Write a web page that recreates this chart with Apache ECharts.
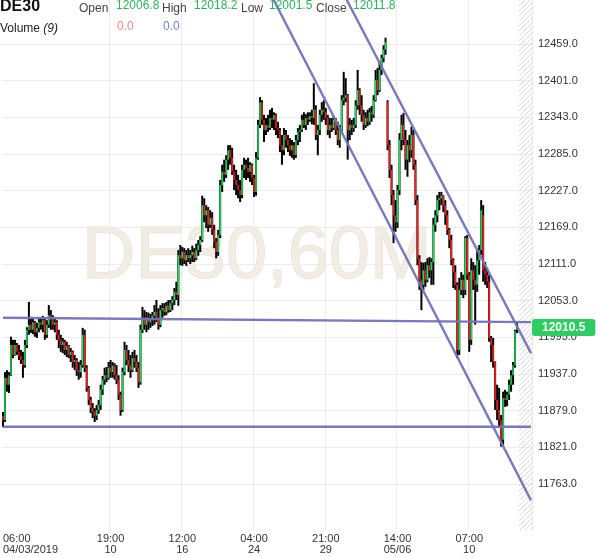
<!DOCTYPE html>
<html><head><meta charset="utf-8">
<script src="https://cdn.jsdelivr.net/npm/echarts@6/dist/echarts.min.js"></script>
<style>html,body{margin:0;padding:0;background:#fff}#c{width:600px;height:558px}</style>
</head><body><div id="c"></div>
<script>
const open = [
11871,11864,11931,11920,11935,11983,11967,11983,11972,11966,
11959,11951,11983,12007,12015,12007,12019,12003,12010,12019,
12015,12022,11999,12015,12030,12026,12015,12019,11999,11991,
11983,11988,11975,11981,11967,11972,11956,11959,11943,11940,
11951,11999,11947,11915,11896,11883,11877,11871,11880,11888,
11912,11928,11935,11931,11947,11940,11950,11935,11928,11904,
11880,11940,11975,11959,11951,11943,11962,11956,11947,11924,
12007,12026,12015,12026,12019,12022,12029,12035,12026,12015,
12038,12041,12035,12045,12038,12049,12054,12067,12062,12125,
12120,12130,12117,12125,12120,12125,12130,12120,12133,12141,
12149,12204,12188,12196,12173,12184,12165,12146,12130,12157,
12236,12257,12252,12276,12291,12279,12257,12244,12236,12228,
12220,12260,12268,12263,12257,12268,12247,12225,12279,12331,
12367,12339,12323,12331,12326,12342,12339,12347,12326,12323,
12299,12291,12315,12307,12299,12291,12299,12283,12307,12320,
12323,12339,12331,12342,12339,12345,12342,12355,12315,12323,
12347,12355,12351,12342,12323,12331,12326,12339,12323,12307,
12323,12370,12374,12378,12323,12331,12326,12331,12362,12386,
12362,12347,12331,12342,12336,12351,12347,12370,12402,12386,
12418,12437,12450,12367,12299,12260,12220,12188,12177,12228,
12307,12331,12307,12276,12299,12291,12315,12268,12212,12120,
12086,12078,12101,12086,12109,12101,12114,12173,12188,12212,
12215,12219,12204,12188,12165,12149,12117,12098,12078,11975,
12070,12086,12070,12152,12094,11991,12101,12086,12078,12117,
12133,12188,12101,12094,12083,11994,11983,11956,11896,11880,
11864,11833,11899,11896,11904,11920,11935,11951,12006.8];
const close = [
11864,11931,11920,11935,11983,11967,11983,11972,11966,11959,
11951,11983,12007,12015,12007,12019,12003,12010,12019,12015,
12022,11999,12015,12030,12026,12015,12019,11999,11991,11983,
11988,11975,11981,11967,11972,11956,11959,11943,11940,11951,
11999,11947,11915,11896,11883,11877,11871,11880,11888,11912,
11928,11935,11931,11947,11940,11950,11935,11928,11904,11880,
11940,11975,11959,11951,11943,11962,11956,11947,11924,12007,
12026,12015,12026,12019,12022,12029,12035,12026,12015,12038,
12041,12035,12045,12038,12049,12054,12067,12062,12125,12120,
12130,12117,12125,12120,12125,12130,12120,12133,12141,12149,
12204,12188,12196,12173,12184,12165,12146,12130,12157,12236,
12257,12252,12276,12291,12279,12257,12244,12236,12228,12220,
12260,12268,12263,12257,12268,12247,12225,12279,12331,12367,
12339,12323,12331,12326,12342,12339,12347,12326,12323,12299,
12291,12315,12307,12299,12291,12299,12283,12307,12320,12323,
12339,12331,12342,12339,12345,12342,12355,12315,12323,12347,
12355,12351,12342,12323,12331,12326,12339,12323,12307,12323,
12370,12374,12378,12323,12331,12326,12331,12362,12386,12362,
12347,12331,12342,12336,12351,12347,12370,12402,12386,12418,
12437,12450,12462,12299,12260,12220,12188,12177,12228,12307,
12331,12307,12276,12299,12291,12315,12268,12212,12120,12086,
12078,12101,12086,12109,12101,12114,12173,12188,12212,12215,
12219,12204,12188,12165,12149,12117,12098,12078,11975,12070,
12086,12070,12152,12094,11991,12101,12086,12078,12117,12133,
12196,12101,12094,12083,11994,11983,11956,11896,11880,11864,
11833,11899,11896,11904,11920,11935,11951,12005,12011.8];
const low = [
11853,11861,11909,11907,11934,11962,11966,11967,11959,11953,
11931,11947,11978,11999,12002,12000,11996,11994,12003,12007,
12003,11991,11994,12010,12007,12007,12003,11991,11978,11972,
11970,11967,11964,11962,11956,11947,11943,11934,11928,11931,
11947,11940,11909,11888,11875,11867,11861,11864,11874,11880,
11904,11920,11924,11928,11931,11931,11928,11921,11896,11871,
11877,11935,11951,11940,11931,11940,11947,11940,11915,11920,
12002,12007,12003,12007,12010,12013,12015,12019,12007,12011,
12026,12029,12030,12034,12035,12038,12046,12054,12045,12109,
12108,12111,12108,12114,12111,12114,12114,12117,12124,12130,
12146,12177,12168,12162,12168,12157,12136,12120,12124,12152,
12225,12241,12247,12260,12268,12252,12228,12220,12215,12209,
12215,12247,12244,12247,12241,12236,12217,12219,12276,12326,
12331,12304,12315,12320,12323,12326,12323,12315,12310,12288,
12268,12283,12295,12288,12282,12279,12276,12279,12299,12304,
12320,12326,12323,12331,12336,12332,12331,12307,12283,12315,
12336,12339,12331,12315,12310,12320,12323,12315,12299,12295,
12320,12362,12367,12276,12307,12315,12320,12326,12355,12347,
12336,12323,12326,12329,12331,12336,12342,12368,12378,12383,
12410,12430,12442,12291,12247,12204,12144,12162,12168,12220,
12291,12299,12260,12249,12272,12279,12260,12204,12109,12070,
12038,12070,12075,12082,12089,12078,12078,12162,12177,12196,
12204,12193,12173,12157,12136,12109,12073,12070,11962,11967,
12062,12057,12062,12086,11972,11983,12070,12015,12067,12094,
12125,12083,12078,12073,11988,11956,11947,11880,11864,11852,
11822,11825,11885,11886,11896,11909,11920,11947,12001.5];
const high = [
11877,11940,11943,11940,11996,11991,11991,11986,11983,11975,
11972,11991,12011,12051,12027,12026,12021,12018,12026,12027,
12029,12026,12022,12046,12038,12030,12026,12022,12007,11999,
11994,11991,11988,11983,11978,11974,11967,11962,11956,11959,
12010,12007,11951,11918,11901,11891,11883,11888,11896,11920,
11934,11947,11948,11956,11959,11956,11954,11951,11935,11909,
11947,11988,11983,11975,11967,11972,11975,11967,11956,12015,
12043,12038,12035,12034,12032,12035,12046,12054,12041,12046,
12049,12049,12051,12054,12054,12060,12073,12083,12133,12141,
12138,12136,12133,12136,12133,12140,12136,12143,12149,12155,
12219,12215,12204,12201,12196,12193,12173,12152,12165,12244,
12268,12276,12283,12299,12299,12295,12268,12260,12252,12244,
12268,12279,12276,12279,12272,12270,12252,12288,12339,12375,
12370,12347,12342,12347,12355,12358,12351,12349,12336,12326,
12315,12326,12323,12315,12310,12307,12304,12315,12326,12331,
12347,12351,12348,12351,12351,12355,12397,12362,12331,12355,
12367,12370,12358,12347,12342,12342,12345,12342,12336,12331,
12378,12415,12405,12380,12342,12339,12342,12370,12418,12389,
12378,12355,12351,12355,12358,12361,12378,12418,12421,12430,
12442,12457,12469,12370,12307,12268,12228,12212,12236,12318,
12347,12350,12323,12307,12315,12328,12323,12276,12220,12125,
12114,12113,12114,12120,12122,12120,12184,12196,12220,12225,
12225,12220,12212,12196,12168,12157,12120,12109,12082,12089,
12098,12094,12155,12157,12098,12120,12114,12109,12133,12141,
12212,12204,12114,12105,12094,11997,11994,11957,11920,11915,
11872,11909,11912,11909,11928,11943,11956,12007,12018.2];

const tickLabels = ['06:00\n04/03/2019', '19:00\n10', '12:00\n16', '04:00\n24', '21:00\n29', '14:00\n05/06', '07:00\n10'];
const tickIndex = [0, 54, 90, 126, 162, 198, 234];
const futureSlots = 7;
const yTicks = [11763, 11821, 11879, 11937, 11995, 12053, 12111, 12169, 12227, 12285, 12343, 12401, 12459];
const yMin = 11690.2, yMax = 12528.6;
const lastPrice = 12010.5;
const header = {open: '12006.8', high: '12018.2', low: '12001.5', close: '12011.8', vol1: '0.0', vol2: '0.0'};
const channelUpper = [[170, 12544], [265, 11970]];
const channelLower = [[135, 12534], [265, 11737]];
const levelUpper = [[0, 12026], [265, 12019]];
const levelLower = [[0, 11853.6], [265, 11853.6]];

const N = open.length;
const cats = [];
for (let i = 0; i < N + futureSlots; i++) cats.push(String(i));
const labelAt = {};
tickIndex.forEach((t, k) => { labelAt[t] = tickLabels[k]; });
const candles = open.map((o, i) => [i, o, close[i], low[i], high[i]]);

const GREEN = '#1fdc5f', RED = '#ff1a1a', LINE = '#7272b9';
const FONT = '"Liberation Sans", Arial, sans-serif';

function renderItem(params, api) {
  const i = api.value(0), o = api.value(1), c = api.value(2), l = api.value(3), h = api.value(4);
  const pL = api.coord([i, l]), pH = api.coord([i, h]);
  const pO = api.coord([i, o]), pC = api.coord([i, c]);
  let y0 = Math.min(pO[1], pC[1]), y1 = Math.max(pO[1], pC[1]);
  if (y1 - y0 < 1) y1 = y0 + 1;
  return {
    type: 'group',
    children: [
      {type: 'line', shape: {x1: pL[0], y1: pL[1], x2: pH[0], y2: pH[1]}, style: {stroke: '#000', lineWidth: 2}},
      {type: 'rect', shape: {x: pO[0] - 0.75, y: y0, width: 1.5, height: y1 - y0}, style: {fill: c >= o ? GREEN : RED}}
    ]
  };
}

function lineSeries(pts) {
  return {
    type: 'line', data: pts, symbol: 'none', clip: true, silent: true, z: 4,
    lineStyle: {color: LINE, width: 2.4, opacity: 0.95}
  };
}

const pc = document.createElement('canvas');
pc.width = 5; pc.height = 5;
const g = pc.getContext('2d');
g.strokeStyle = '#d8d8d8'; g.lineWidth = 1;
g.beginPath(); g.moveTo(0, 5); g.lineTo(5, 0); g.moveTo(-1, 1); g.lineTo(1, -1); g.moveTo(4, 6); g.lineTo(6, 4); g.stroke();

const chart = echarts.init(document.getElementById('c'), null, {renderer: 'canvas'});
chart.setOption({
  animation: false,
  backgroundColor: '#fff',
  grid: {left: 0, right: 68, top: 0, bottom: 28, containLabel: false},
  xAxis: {
    type: 'category', data: cats, boundaryGap: true,
    axisLine: {show: false}, axisTick: {show: false},
    axisLabel: {
      interval: (idx) => labelAt[idx] !== undefined,
      formatter: (v, idx) => labelAt[idx] || '',
      fontSize: 11, color: '#333', lineHeight: 11, margin: 3, fontFamily: FONT,
      alignMinLabel: 'left'
    },
    splitLine: {show: true, interval: (idx) => labelAt[idx] !== undefined && idx > 0, lineStyle: {color: '#ececec', width: 1}}
  },
  yAxis: {
    type: 'value', position: 'right', min: yMin, max: yMax,
    axisLine: {show: false},
    axisTick: {show: false, customValues: yTicks},
    axisLabel: {customValues: yTicks, formatter: (v) => v.toFixed(1), fontSize: 11, color: '#333', margin: 6, fontFamily: FONT},
    splitLine: {show: true, lineStyle: {color: '#ececec', width: 1}}
  },
  graphic: [
    {type: 'rect', shape: {x: 519, y: 0, width: 14, height: 530}, style: {fill: {image: pc, repeat: 'repeat'}}, z: 1, silent: true},
    {type: 'text', x: 82, y: 258, z: 1, silent: true,
      style: {text: 'DE30,60M', font: 'normal 74px ' + FONT, fill: '#f1ede4', stroke: '#e4ddcc', lineWidth: 1, verticalAlign: 'middle'}},
    {type: 'text', x: 0, y: 7, z: 10, style: {text: 'DE30', font: 'bold 16px ' + FONT, fill: '#111', verticalAlign: 'middle'}},
    {type: 'text', x: 79, y: 9, z: 10, style: {text: 'Open', font: '12px ' + FONT, fill: '#444', verticalAlign: 'middle'}},
    {type: 'text', x: 116, y: 6, z: 10, style: {text: header.open, font: '12px ' + FONT, fill: '#2eb15e', verticalAlign: 'middle'}},
    {type: 'text', x: 162, y: 9, z: 10, style: {text: 'High', font: '12px ' + FONT, fill: '#444', verticalAlign: 'middle'}},
    {type: 'text', x: 194, y: 6, z: 10, style: {text: header.high, font: '12px ' + FONT, fill: '#2eb15e', verticalAlign: 'middle'}},
    {type: 'text', x: 241, y: 9, z: 10, style: {text: 'Low', font: '12px ' + FONT, fill: '#444', verticalAlign: 'middle'}},
    {type: 'text', x: 269, y: 6, z: 10, style: {text: header.low, font: '12px ' + FONT, fill: '#2eb15e', verticalAlign: 'middle'}},
    {type: 'text', x: 316, y: 9, z: 10, style: {text: 'Close', font: '12px ' + FONT, fill: '#444', verticalAlign: 'middle'}},
    {type: 'text', x: 353, y: 6, z: 10, style: {text: header.close, font: '12px ' + FONT, fill: '#2eb15e', verticalAlign: 'middle'}},
    {type: 'text', x: 0, y: 29, z: 10, style: {
      text: '{n|Volume }{i|(9)}', verticalAlign: 'middle',
      rich: {n: {font: '12px ' + FONT, fill: '#222'}, i: {font: 'italic 12px ' + FONT, fill: '#222'}}}},
    {type: 'text', x: 117, y: 27, z: 10, style: {text: header.vol1, font: '12px ' + FONT, fill: '#f08a8a', verticalAlign: 'middle'}},
    {type: 'text', x: 163, y: 27, z: 10, style: {text: header.vol2, font: '12px ' + FONT, fill: '#6f86d6', verticalAlign: 'middle'}}
  ],
  series: [
    {type: 'custom', renderItem: renderItem, data: candles, encode: {x: 0, y: [1, 2, 3, 4]}, z: 3, clip: true, silent: true},
    lineSeries(levelUpper),
    lineSeries(levelLower),
    lineSeries(channelUpper),
    lineSeries(channelLower),
    {
      type: 'line', data: [[N - 1, lastPrice]], symbol: 'none', showSymbol: false, clip: false, silent: true, z: 20,
      lineStyle: {width: 0},
      markLine: {
        silent: true, symbol: 'none', animation: false, z: 20,
        lineStyle: {color: 'rgba(0,0,0,0)', width: 1, type: 'solid'},
        data: [{yAxis: lastPrice}],
        label: {show: true, position: 'end', distance: 0, formatter: () => lastPrice.toFixed(1),
          color: '#fff', fontWeight: 'bold', fontSize: 12, fontFamily: FONT,
          backgroundColor: '#2ecc62', padding: [3, 10, 2, 10], borderRadius: 3}
      }
    }
  ]
});
</script></body></html>
